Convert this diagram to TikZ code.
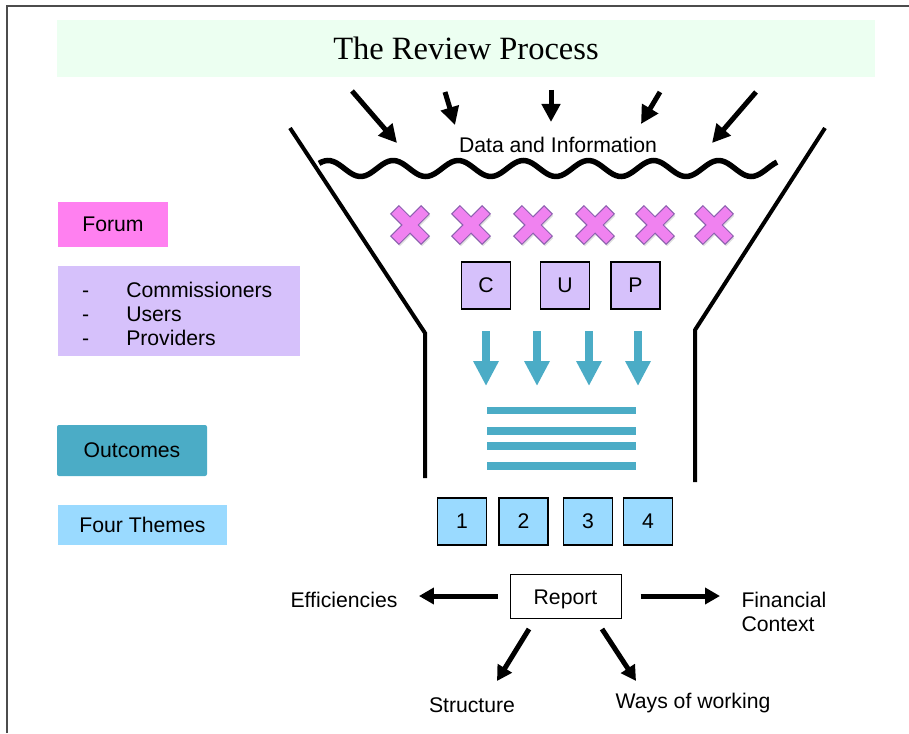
\documentclass[tikz,border=0pt]{standalone}
\usepackage{fontspec}
\setmainfont{Liberation Sans}
\newfontfamily\titlefont{Liberation Serif}
\usetikzlibrary{arrows.meta,shadows}

\definecolor{titlegreen}{RGB}{236,255,241}
\definecolor{forumpink}{RGB}{255,128,240}
\definecolor{lavender}{RGB}{214,193,251}
\definecolor{outteal}{RGB}{75,172,198}
\definecolor{themeblue}{RGB}{154,218,255}
\definecolor{crosspink}{RGB}{240,130,240}
\definecolor{crossedge}{RGB}{140,95,175}

\begin{document}
\begin{tikzpicture}[x=1pt, y=-1pt,
	every node/.style={font=\fontsize{21.2}{24}\selectfont},
	letterbox/.style={draw=black, line width=1.2pt, fill=lavender, minimum width=49pt, minimum height=47pt},
	numbox/.style={draw=black, line width=1.2pt, fill=themeblue, minimum width=49pt, minimum height=47pt},
	inarrow/.style={line width=5pt, -{Triangle[length=18pt,width=18pt]}},
	outarrow/.style={line width=5pt, -{Triangle[length=15pt,width=16pt]}},
	downarrow/.style={outteal, line width=8pt, -{Triangle[length=25pt,width=24pt]}},
	bar/.style={outteal, line width=7.5pt},
	funnel/.style={line width=4pt}]
	\useasboundingbox (0,0) rectangle (909,733);
	\draw[line width=1.5pt, black!70] (7,733) -- (7,6) -- (909,6);

	% title
	\node[fill=titlegreen, minimum width=818pt, minimum height=57pt, font=\titlefont\fontsize{32.5}{36}\selectfont] (title) at (466,48.5) {The Review Process};

	% data coming in
	\coordinate (a1) at (352,91); \coordinate (b1) at (397,143);
	\coordinate (a2) at (445,92); \coordinate (b2) at (455,125);
	\coordinate (a3) at (551,90); \coordinate (b3) at (551,122);
	\coordinate (a4) at (660,92); \coordinate (b4) at (641,124);
	\coordinate (a5) at (756,92); \coordinate (b5) at (712,143);
	\foreach \i in {1,...,5}
		\draw[inarrow] (a\i) -- (b\i);
	\node (data) at (558,145) {Data and Information};
	\draw[line width=5.5pt, domain=319:777, samples=160, smooth] plot (\x, {168.5-8*sin((\x-319)*5.53+40)});

	% funnel
	\draw[funnel] (290,128) -- (425,333) -- (425,478);
	\draw[funnel] (825,128) -- (695,330) -- (695,482);

	% forum crosses
	\foreach \cx in {410,471,533,595,655,714}
		\filldraw[fill=crosspink, draw=crossedge, line width=1pt, drop shadow={opacity=0.25, shadow xshift=1pt, shadow yshift=-2pt}, shift={(\cx,225)}, rotate=45]
			(5.8,21.5) -- (5.8,5.8) -- (21.5,5.8) -- (21.5,-5.8) -- (5.8,-5.8) -- (5.8,-21.5) -- (-5.8,-21.5) -- (-5.8,-5.8) -- (-21.5,-5.8) -- (-21.5,5.8) -- (-5.8,5.8) -- (-5.8,21.5) -- cycle;

	\node[letterbox] (c) at (486,285.5) {C};
	\node[letterbox] (u) at (565,285.5) {U};
	\node[letterbox] (p) at (635.5,285.5) {P};

	% outcomes
	\foreach \ax in {486,537,589,638}
		\draw[downarrow] (\ax,331) -- (\ax,386);
	\foreach \by in {410.5,431,446,466}
		\draw[bar] (487,\by) -- (636,\by);

	\node[numbox] (t1) at (462,521.5) {1};
	\node[numbox] (t2) at (523.5,521.5) {2};
	\node[numbox] (t3) at (588,521.5) {3};
	\node[numbox] (t4) at (648,521.5) {4};

	% report
	\node[draw=black, line width=1pt, minimum width=111pt, minimum height=44pt, text depth=0pt, text height=17pt] (report) at (565.5,596) {Report};
	\node (eff) at (344,600) {Efficiencies};
	\node[anchor=west, align=left] (fin) at (738,612) {Financial\\Context};
	\node (struct) at (472,705) {Structure};
	\node (ways) at (693,703) {Ways of working};
	\draw[outarrow, shorten <=12pt, shorten >=18pt] (report.west) -- (eff.east |- report.west);
	\draw[outarrow, shorten <=19pt, shorten >=18pt] (report.east) -- (fin.west |- report.east);
	\coordinate (s0) at (529,629); \coordinate (s1) at (497,681);
	\coordinate (w0) at (602,629); \coordinate (w1) at (636,681);
	\draw[outarrow] (s0) -- (s1);
	\draw[outarrow] (w0) -- (w1);

	% key on the left
	\node[fill=forumpink, minimum width=110pt, minimum height=45pt] (forum) at (113,224.5) {Forum};
	\node[fill=lavender, minimum width=242pt, minimum height=90pt] (groups) at (179,311) {};
	\node[anchor=west, inner sep=0pt] (names) at (82,317)
		{\begin{tabular}{@{}l@{\hspace{37pt}}l@{}}-&Commissioners\\-&Users\\-&Providers\end{tabular}};
	\node[fill=outteal, rounded corners=2pt, minimum width=150pt, minimum height=51pt] (outc) at (132,450.5) {Outcomes};
	\node[fill=themeblue, minimum width=169pt, minimum height=40pt] (themes) at (142.5,525) {Four Themes};
\end{tikzpicture}
\end{document}
